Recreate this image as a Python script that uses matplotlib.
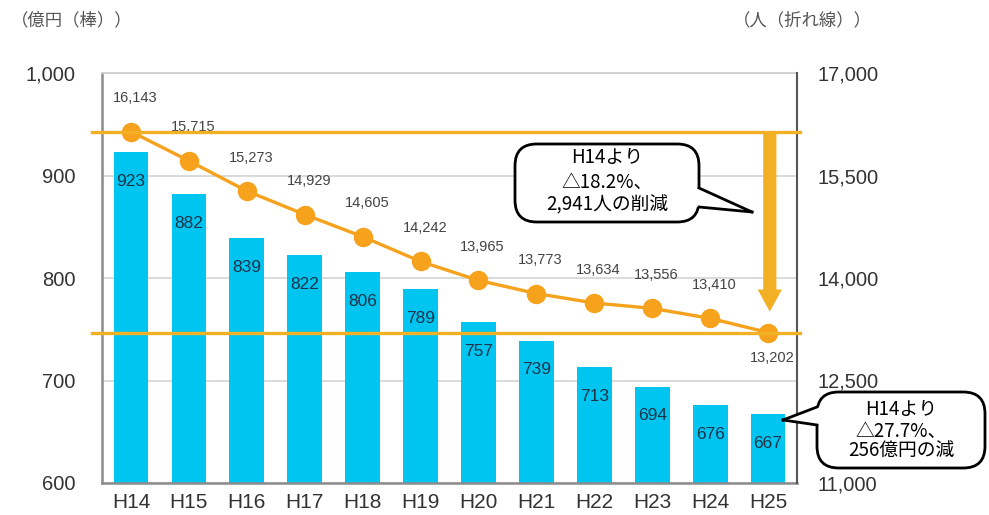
import matplotlib.pyplot as plt
from matplotlib.patches import FancyBboxPatch, Polygon
from matplotlib.lines import Line2D

# budget (bars, 億円) and staff (line, 人), H14 - H25
years = ['H14', 'H15', 'H16', 'H17', 'H18', 'H19', 'H20', 'H21', 'H22', 'H23', 'H24', 'H25']
budget = [923, 882, 839, 822, 806, 789, 757, 739, 713, 694, 676, 667]
staff = [16143, 15715, 15273, 14929, 14605, 14242, 13965, 13773, 13634, 13556, 13410, 13202]

left_ticks = [600, 700, 800, 900, 1000]
right_ticks = [11000, 12500, 14000, 15500, 17000]

box1_lines = ['H14より', '△18.2%、', '2,941人の削減']
box2_lines = ['H14より', '△27.7%、', '256億円の減']

W, H = 989, 515
cjk = ['Noto Sans CJK JP', 'DejaVu Sans']
plt.rcParams['font.family'] = ['Liberation Sans', 'DejaVu Sans']

fig = plt.figure(figsize=(W / 100, H / 100), dpi=100)
ax = fig.add_axes([102 / W, (H - 483) / H, (797 - 102) / W, (483 - 73) / H])

x = list(range(len(years)))
bars = ax.bar(x, budget, width=0.6, color='#00C5F1', zorder=2)
ax.set_xlim(-0.5, 11.5)
ax.set_ylim(600, 1000)
ax.set_yticks(left_ticks)
ax.set_yticklabels([f'{v:,}' for v in left_ticks])
ax.set_xticks(x)
ax.set_xticklabels(years)
ax.grid(axis='y', color='#D8D8D8', lw=1.3)
ax.set_axisbelow(True)
ax.tick_params(axis='y', length=0, pad=19, labelsize=14.5, labelcolor='#333333')
ax.tick_params(axis='x', length=0, pad=7, labelsize=15, labelcolor='#333333')
for s in ['left', 'bottom']:
    ax.spines[s].set_color('#8C8C8C')
    ax.spines[s].set_linewidth(1.8)
ax.spines['top'].set_color('#D0D0D0')
ax.spines['top'].set_linewidth(1.3)
ax.spines['right'].set_visible(False)

for xi, v in zip(x, budget):
    ax.annotate(str(v), (xi, v), xytext=(0, -21), textcoords='offset points',
                ha='center', va='center', fontsize=12.5, color='#1E3347', zorder=3)

ax2 = ax.twinx()
ax2.set_ylim(11000, 17000)
ax2.set_yticks(right_ticks)
ax2.set_yticklabels([f'{v:,}' for v in right_ticks])
ax2.tick_params(axis='y', length=0, pad=15, labelsize=14.5, labelcolor='#333333')
for s in ['left', 'top', 'bottom']:
    ax2.spines[s].set_visible(False)
ax2.spines['right'].set_color('#555555')
ax2.spines['right'].set_linewidth(1.5)

ax2.plot(x, staff, color='#F6A21C', lw=2.4, marker='o', markersize=13, zorder=4)
for i, (xi, v) in enumerate(zip(x, staff)):
    dy = -18 if i == len(staff) - 1 else 24
    ax2.annotate(f'{v:,}', (xi, v), xytext=(3, dy), textcoords='offset points',
                 ha='center', va='center', fontsize=10.5, color='#444444')

# reference lines at first / last staff values
yt = ax2.get_yaxis_transform()
for v in (staff[0], staff[-1]):
    ax2.plot([-0.014, 1.005], [v, v], transform=yt, color='#F2B124', lw=2.4,
             clip_on=False, zorder=5)

ax2.annotate('', xy=(11.03, staff[-1]), xytext=(11.03, staff[0]),
             arrowprops=dict(arrowstyle='simple,head_width=1.75,head_length=1.6,tail_width=0.95',
                             mutation_scale=10, fc='#F2B124', ec='none',
                             shrinkA=0, shrinkB=15), zorder=6)


def fp(px, py):
    return (px / W, (H - py) / H)


def callout(x0, y0, x1, y1, side, base, tip, lines, line_ys, fs):
    bx, by = fp(x0, y1)
    bw, bh = (x1 - x0) / W, (y1 - y0) / H
    fig.add_artist(FancyBboxPatch((bx, by), bw, bh, boxstyle='round,pad=0,rounding_size=0.022',
                                  transform=fig.transFigure, fc='white', ec='black', lw=2,
                                  mutation_aspect=W / H, zorder=10))
    ex = x1 if side == 'right' else x0
    inner = ex - 3 if side == 'right' else ex + 3
    fig.add_artist(Polygon([fp(inner, base[0]), fp(ex, base[0]), fp(*tip), fp(ex, base[1]),
                            fp(inner, base[1])], closed=True, transform=fig.transFigure,
                           fc='white', ec='none', zorder=11))
    for b in base:
        p0, p1 = fp(ex, b), fp(*tip)
        fig.add_artist(Line2D([p0[0], p1[0]], [p0[1], p1[1]], transform=fig.transFigure,
                              color='black', lw=2, zorder=12))
    cx = (x0 + x1) / 2
    for txt, ly in zip(lines, line_ys):
        fig.text(*fp(cx, ly), txt, ha='center', va='center', fontsize=fs, family=cjk,
                 color='black', zorder=13)


callout(515, 144, 699, 222, 'right', (188, 207), (752, 212), box1_lines, (158, 182, 205), 13.5)
callout(817, 392, 985, 468, 'left', (407, 425), (783, 420), box2_lines, (410, 431, 450), 13.5)

fig.text(*fp(72, 20), '（億円（棒））', ha='center', va='center', fontsize=12.5,
         family=cjk, color='#555555')
fig.text(*fp(802, 20), '（人（折れ線））', ha='center', va='center', fontsize=12.5,
         family=cjk, color='#555555')

fig.savefig('out.png', dpi=100)
